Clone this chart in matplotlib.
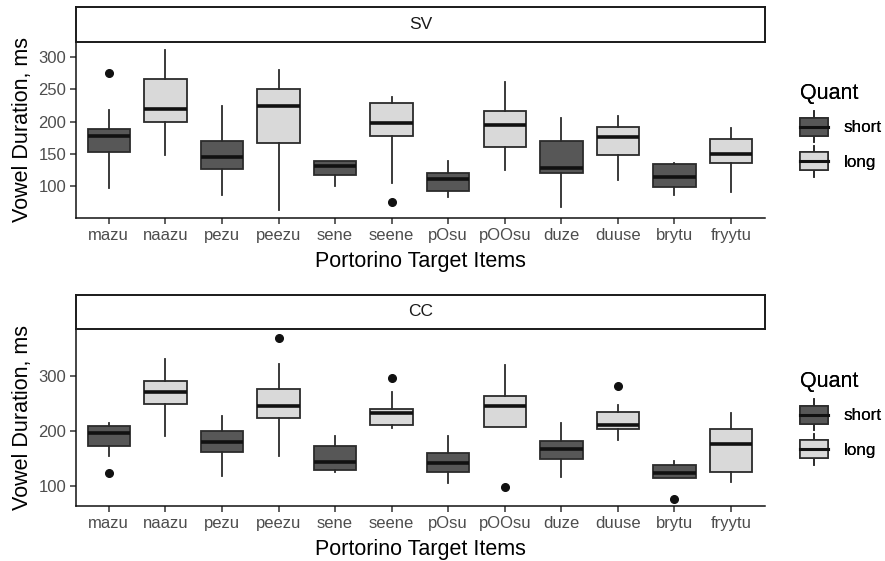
import matplotlib
matplotlib.use("Agg")
import matplotlib.pyplot as plt
from matplotlib.legend_handler import HandlerBase
from matplotlib.patches import Rectangle
from matplotlib.lines import Line2D

plt.rcParams['font.family'] = ['Liberation Sans', 'DejaVu Sans']

items = ["mazu", "naazu", "pezu", "peezu", "sene", "seene",
         "pOsu", "pOOsu", "duze", "duuse", "brytu", "fryytu"]
quant = ["short", "long"] * 6

# SV condition: whisker low, q1, median, q3, whisker high, outliers
sv_lo  = [97, 147, 85, 62, 100, 104, 82, 125, 67, 109, 85, 90]
sv_q1  = [152, 200, 126, 166, 116, 178, 91, 161, 120, 148, 98, 135]
sv_med = [177, 219, 145, 224, 131, 197, 110, 194, 128, 176, 114, 150]
sv_q3  = [189, 266, 170, 250, 139, 229, 120, 217, 170, 191, 133, 173]
sv_hi  = [218, 311, 224, 280, 139, 238, 139, 262, 205, 208, 135, 190]
sv_out = [[275], [], [], [], [], [75], [], [], [], [], [], []]

# CC condition
cc_lo  = [155, 191, 118, 155, 125, 205, 105, 207, 117, 184, 115, 108]
cc_q1  = [173, 248, 162, 224, 129, 211, 126, 207, 148, 203, 115, 125]
cc_med = [196, 270, 180, 245, 144, 232, 141, 246, 167, 211, 124, 176]
cc_q3  = [208, 291, 200, 276, 173, 240, 159, 264, 182, 235, 138, 203]
cc_hi  = [215, 330, 227, 321, 191, 270, 190, 320, 215, 247, 145, 233]
cc_out = [[123], [], [], [368], [], [296], [], [98], [], [282], [77], []]

fill = {"short": "#575757", "long": "#d9d9d9"}
edge = "#2b2b2b"
W, H = 885, 561


def px_axes(left, top, right, bottom):
    return fig.add_axes([left / W, 1 - bottom / H, (right - left) / W, (bottom - top) / H])


def draw_panel(ax, lo, q1, med, q3, hi, out, ylim, yticks):
    stats = []
    for i in range(len(items)):
        stats.append({"whislo": lo[i], "q1": q1[i], "med": med[i], "q3": q3[i],
                      "whishi": hi[i], "fliers": out[i], "label": items[i]})
    bp = ax.bxp(stats, positions=range(1, len(items) + 1), widths=0.75,
                patch_artist=True, showcaps=False,
                boxprops=dict(edgecolor=edge, linewidth=1.3),
                medianprops=dict(color="#111111", linewidth=2.6, solid_capstyle="butt"),
                whiskerprops=dict(color=edge, linewidth=1.3),
                flierprops=dict(marker="o", markerfacecolor="#111111",
                                markeredgecolor="#111111", markersize=5.5))
    for patch, q in zip(bp["boxes"], quant):
        patch.set_facecolor(fill[q])
    ax.set_xlim(0.42, 12.6)
    ax.set_ylim(*ylim)
    ax.set_yticks(yticks)
    for s in ["top", "right"]:
        ax.spines[s].set_visible(False)
    for s in ["left", "bottom"]:
        ax.spines[s].set_linewidth(1.1)
        ax.spines[s].set_color("#111111")
    ax.tick_params(length=4, width=1.1, color="#333333", labelcolor="#4d4d4d",
                   labelsize=12, pad=3)
    ax.set_xlabel("Portorino Target Items", fontsize=15.5, labelpad=6)
    ax.set_ylabel("Vowel Duration, ms", fontsize=15.5, labelpad=4)


def draw_strip(ax, label):
    ax.set_xticks([])
    ax.set_yticks([])
    for s in ax.spines.values():
        s.set_linewidth(1.4)
        s.set_color("#1a1a1a")
    ax.text(0.5, 0.5, label, ha="center", va="center", fontsize=12.5,
            color="#1a1a1a", transform=ax.transAxes)


class BoxKey(HandlerBase):
    # small boxplot glyph: box with median, whiskers above and below
    def create_artists(self, legend, orig_handle, xdescent, ydescent,
                       width, height, fontsize, trans):
        x0 = -xdescent
        cx = x0 + width / 2
        cy = -ydescent + height / 2
        bh, wh = 6.5, 11.0
        box = Rectangle((x0, cy - bh), width, 2 * bh,
                        facecolor=orig_handle.get_facecolor(), edgecolor=edge,
                        linewidth=1.2, transform=trans)
        med = Line2D([x0, x0 + width], [cy, cy], color="#111111",
                     linewidth=2.2, transform=trans)
        w1 = Line2D([cx, cx], [cy - wh, cy - bh], color=edge,
                    linewidth=1.2, transform=trans)
        w2 = Line2D([cx, cx], [cy + bh, cy + wh], color=edge,
                    linewidth=1.2, transform=trans)
        return [w1, w2, box, med]


def draw_legend(top_px):
    handles = [Rectangle((0, 0), 1, 1, facecolor=fill[q]) for q in ["short", "long"]]
    leg = fig.legend(handles, ["short", "long"], title="Quant",
                     handler_map={Rectangle: BoxKey()},
                     loc="upper left", bbox_to_anchor=(793 / W, 1 - top_px / H),
                     frameon=False, fontsize=12.3, title_fontsize=15.5,
                     handlelength=1.65, handleheight=1.75, handletextpad=0.9,
                     labelspacing=0.65, borderaxespad=0)
    leg._legend_box.align = "left"
    fig.add_artist(leg)


fig = plt.figure(figsize=(8.85, 5.61), dpi=100)

ax1 = px_axes(76, 42, 765, 218)
draw_panel(ax1, sv_lo, sv_q1, sv_med, sv_q3, sv_hi, sv_out, (49.5, 324), [100, 150, 200, 250, 300])
draw_strip(px_axes(76, 7, 765, 42), "SV")
draw_legend(76)

ax2 = px_axes(76, 329, 765, 506)
draw_panel(ax2, cc_lo, cc_q1, cc_med, cc_q3, cc_hi, cc_out, (63.5, 385), [100, 200, 300])
draw_strip(px_axes(76, 295, 765, 329), "CC")
draw_legend(364)

fig.savefig("out.png", dpi=100)
